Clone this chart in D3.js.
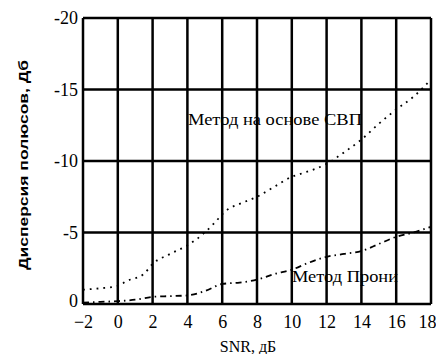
<!DOCTYPE html>
<html>
<head>
<meta charset="utf-8">
<script src="https://cdn.jsdelivr.net/npm/d3@7"></script>
<style>
  html, body { margin: 0; padding: 0; background: #fff; }
  svg { display: block; }
</style>
</head>
<body>
<svg id="chart" width="436" height="354"></svg>
<script>
// SNR values (dB) and pole dispersion for each method
const snrSvp = [-2, -1, 0, 0.5, 1.5, 2, 3, 4, 5, 5.5, 6.3, 7, 8, 9, 10, 10.5, 12, 13, 14, 15, 16, 17, 18];
const dispSvp = [1.0, 1.1, 1.26, 1.6, 2.1, 2.8, 3.5, 4.1, 5.0, 5.6, 6.6, 7.0, 7.5, 8.2, 8.9, 9.1, 9.8, 10.6, 11.5, 12.6, 13.6, 14.5, 15.7];

const snrProny = [-2, -1, 0, 1, 2, 3, 4, 5, 6, 7, 8, 9, 10, 11, 12, 13, 14, 15, 16, 17, 18];
const dispProny = [0.1, 0.15, 0.2, 0.3, 0.5, 0.55, 0.6, 0.9, 1.4, 1.5, 1.7, 2.1, 2.4, 2.9, 3.3, 3.5, 3.7, 4.2, 4.7, 5.0, 5.4];

const xTicks = [-2, 0, 2, 4, 6, 8, 10, 12, 14, 16, 18];
const yTicks = [0, 5, 10, 15, 20];
const yTickLabels = ["0", "-5", "-10", "-15", "-20"];

const svg = d3.select("#chart");
const m = { left: 83, right: 431, top: 18, bottom: 304 };

const x = d3.scaleLinear().domain([-2, 18]).range([m.left, m.right]);
const y = d3.scaleLinear().domain([0, 20]).range([m.bottom, m.top]);

const serif = "'Liberation Serif', 'DejaVu Serif', serif";

// grid
svg.append("g").selectAll("line").data(xTicks).join("line")
  .attr("x1", d => x(d)).attr("x2", d => x(d))
  .attr("y1", m.top).attr("y2", m.bottom)
  .attr("stroke", "#000").attr("stroke-width", 2.5);
svg.append("g").selectAll("line").data(yTicks).join("line")
  .attr("x1", m.left).attr("x2", m.right)
  .attr("y1", d => y(d)).attr("y2", d => y(d))
  .attr("stroke", "#000").attr("stroke-width", 2.5);

// axes
const xAxis = d3.axisBottom(x).tickValues(xTicks).tickSize(0).tickPadding(11);
const gx = svg.append("g").attr("transform", `translate(0,${m.bottom})`).call(xAxis);
gx.select(".domain").remove();
gx.selectAll("text").attr("font-family", serif).attr("font-size", 18).attr("fill", "#000")
  .attr("text-anchor", d => d === 18 ? "end" : "middle")
  .attr("dx", d => d === 18 ? 5 : 0);

const yAxis = d3.axisLeft(y).tickValues(yTicks).tickSize(0).tickPadding(5)
  .tickFormat((d, i) => yTickLabels[i]);
const gy = svg.append("g").attr("transform", `translate(${m.left},0)`).call(yAxis);
gy.select(".domain").remove();
gy.selectAll("text").attr("font-family", serif).attr("font-size", 18).attr("fill", "#000")
  .attr("dy", d => d === 0 ? "0.15em" : "0.32em");

// curves
const line = d3.line().x(d => x(d[0])).y(d => y(d[1])).curve(d3.curveMonotoneX);
svg.append("path")
  .datum(snrSvp.map((s, i) => [s, dispSvp[i]]))
  .attr("d", line).attr("fill", "none").attr("stroke", "#000")
  .attr("stroke-width", 1.8).attr("stroke-dasharray", "1.8 5");
svg.append("path")
  .datum(snrProny.map((s, i) => [s, dispProny[i]]))
  .attr("d", line).attr("fill", "none").attr("stroke", "#000")
  .attr("stroke-width", 1.8).attr("stroke-dasharray", "6 4 1.5 4");

// curve labels
svg.append("text").attr("x", 188).attr("y", 125)
  .attr("font-family", serif).attr("font-size", 17).attr("textLength", 174)
  .attr("lengthAdjust", "spacingAndGlyphs").text("Метод на основе СВП");
svg.append("text").attr("x", 292).attr("y", 282)
  .attr("font-family", serif).attr("font-size", 17).attr("textLength", 106)
  .attr("lengthAdjust", "spacingAndGlyphs").text("Метод Прони");

// axis titles
svg.append("text").attr("x", 248).attr("y", 352).attr("text-anchor", "middle")
  .attr("font-family", serif).attr("font-size", 16).text("SNR, дБ");
svg.append("text")
  .attr("transform", "translate(28,165) rotate(-90)")
  .attr("text-anchor", "middle")
  .attr("font-family", "'Liberation Sans', Arial, sans-serif").attr("font-weight", "bold")
  .attr("font-size", 13).attr("textLength", 210).attr("lengthAdjust", "spacingAndGlyphs")
  .text("Дисперсия полюсов, Дб");
</script>
</body>
</html>
